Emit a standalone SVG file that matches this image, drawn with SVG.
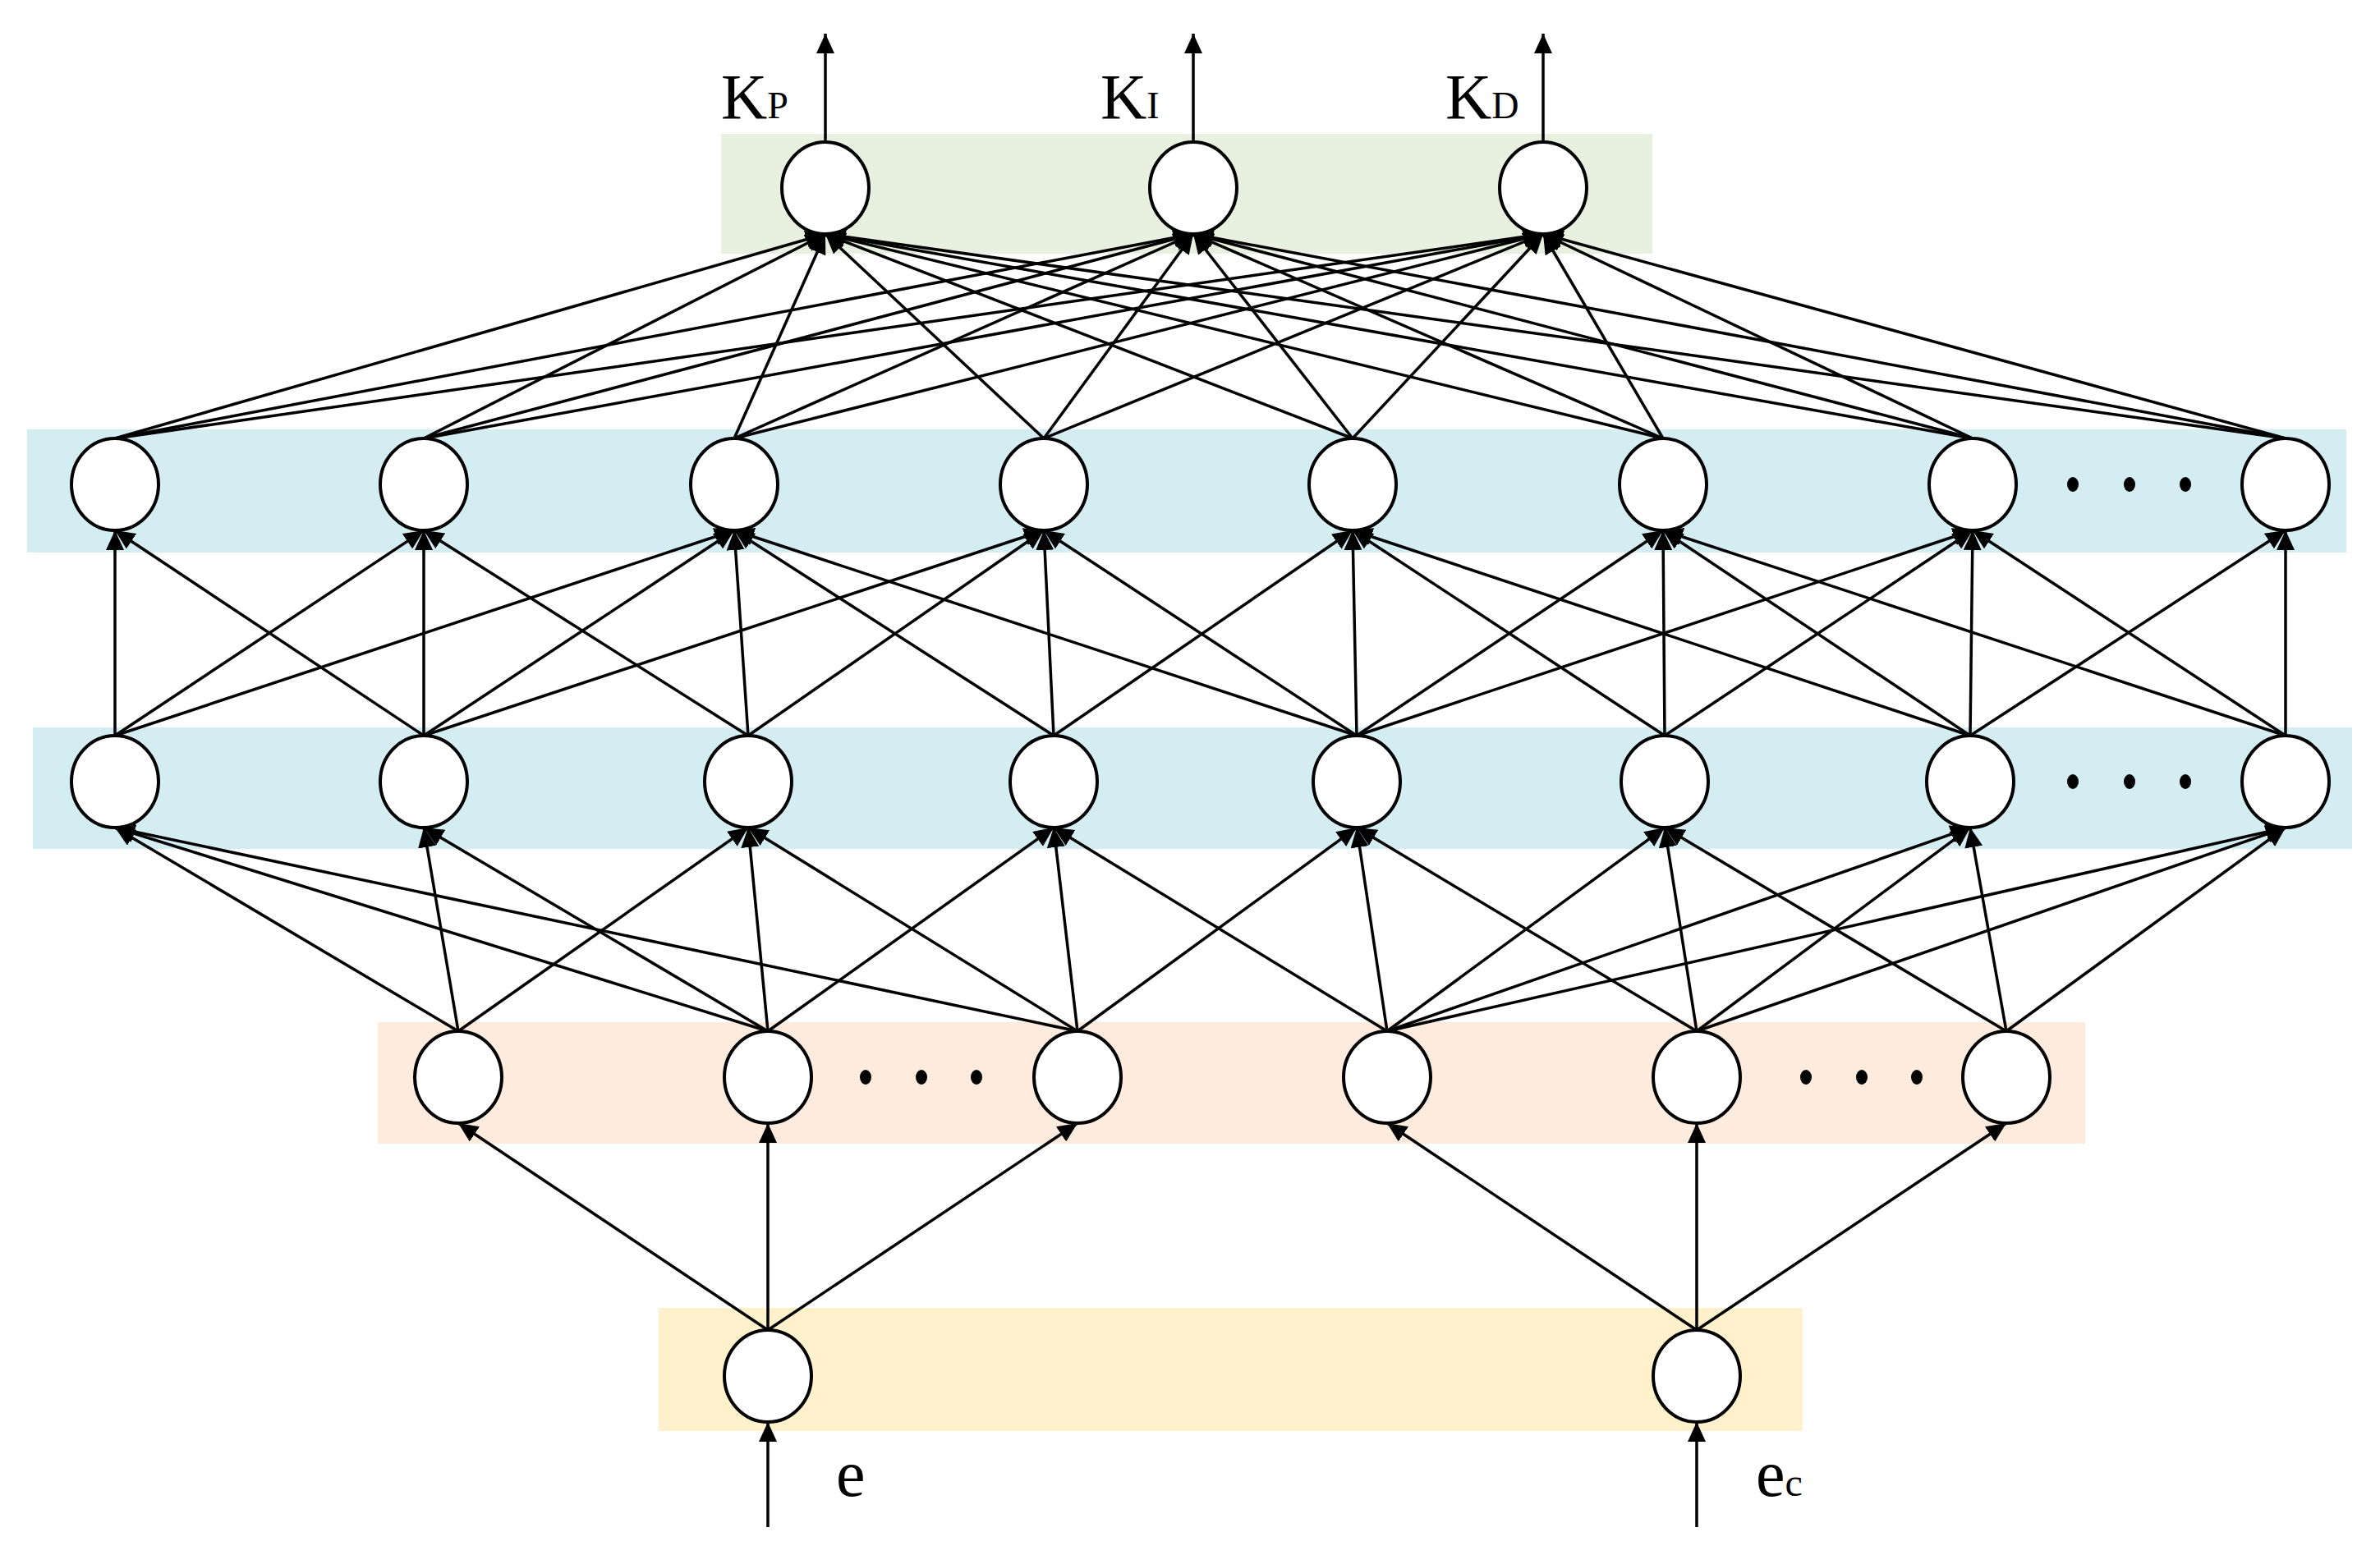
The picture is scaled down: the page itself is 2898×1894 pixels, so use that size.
<svg xmlns="http://www.w3.org/2000/svg" width="2898" height="1894" viewBox="0 0 2898 1894">
<style>
.n{fill:#fff;stroke:#000;stroke-width:4}
.e{stroke:#000;stroke-width:3.5;fill:none;marker-end:url(#ah)}
.t{font-family:"Liberation Serif",serif;fill:#000}
</style>
<defs>
<marker id="ah" markerUnits="userSpaceOnUse" markerWidth="26" markerHeight="22" refX="24" refY="11" orient="auto"><path d="M0,0 L24,11 L0,22 Z" fill="#000"/></marker>
</defs>
<rect width="2898" height="1894" fill="#fff"/>
<g id="bands">
<rect x="878" y="163" width="1134" height="146" fill="#e8f0df"/>
<rect x="33" y="523" width="2824" height="150" fill="#d4edf2"/>
<rect x="40" y="886" width="2824" height="148" fill="#d4edf2"/>
<rect x="460" y="1245" width="2079" height="148" fill="#fdebdd"/>
<rect x="802" y="1593" width="1393" height="150" fill="#fff1cc"/>
</g>
<g id="connectors">
<!-- outputs -->
<line class="e" x1="1005" y1="173" x2="1005" y2="41"/>
<line class="e" x1="1453" y1="173" x2="1453" y2="41"/>
<line class="e" x1="1879" y1="173" x2="1879" y2="41"/>
<!-- H2 -> out -->
<line class="e" x1="140" y1="534" x2="1005" y2="285"/><line class="e" x1="140" y1="534" x2="1453" y2="285"/><line class="e" x1="140" y1="534" x2="1879" y2="285"/>
<line class="e" x1="516" y1="534" x2="1005" y2="285"/><line class="e" x1="516" y1="534" x2="1453" y2="285"/><line class="e" x1="516" y1="534" x2="1879" y2="285"/>
<line class="e" x1="894" y1="534" x2="1005" y2="285"/><line class="e" x1="894" y1="534" x2="1453" y2="285"/><line class="e" x1="894" y1="534" x2="1879" y2="285"/>
<line class="e" x1="1271" y1="534" x2="1005" y2="285"/><line class="e" x1="1271" y1="534" x2="1453" y2="285"/><line class="e" x1="1271" y1="534" x2="1879" y2="285"/>
<line class="e" x1="1647" y1="534" x2="1005" y2="285"/><line class="e" x1="1647" y1="534" x2="1453" y2="285"/><line class="e" x1="1647" y1="534" x2="1879" y2="285"/>
<line class="e" x1="2025" y1="534" x2="1005" y2="285"/><line class="e" x1="2025" y1="534" x2="1453" y2="285"/><line class="e" x1="2025" y1="534" x2="1879" y2="285"/>
<line class="e" x1="2402" y1="534" x2="1005" y2="285"/><line class="e" x1="2402" y1="534" x2="1453" y2="285"/><line class="e" x1="2402" y1="534" x2="1879" y2="285"/>
<line class="e" x1="2783" y1="534" x2="1005" y2="285"/><line class="e" x1="2783" y1="534" x2="1453" y2="285"/><line class="e" x1="2783" y1="534" x2="1879" y2="285"/>
<!-- H1 -> H2 -->
<line class="e" x1="140" y1="896" x2="140" y2="646"/><line class="e" x1="140" y1="896" x2="516" y2="646"/><line class="e" x1="140" y1="896" x2="894" y2="646"/>
<line class="e" x1="516" y1="896" x2="140" y2="646"/><line class="e" x1="516" y1="896" x2="516" y2="646"/><line class="e" x1="516" y1="896" x2="894" y2="646"/><line class="e" x1="516" y1="896" x2="1271" y2="646"/>
<line class="e" x1="911" y1="896" x2="516" y2="646"/><line class="e" x1="911" y1="896" x2="894" y2="646"/><line class="e" x1="911" y1="896" x2="1271" y2="646"/>
<line class="e" x1="1283" y1="896" x2="894" y2="646"/><line class="e" x1="1283" y1="896" x2="1271" y2="646"/><line class="e" x1="1283" y1="896" x2="1647" y2="646"/>
<line class="e" x1="1652" y1="896" x2="894" y2="646"/><line class="e" x1="1652" y1="896" x2="1271" y2="646"/><line class="e" x1="1652" y1="896" x2="1647" y2="646"/><line class="e" x1="1652" y1="896" x2="2025" y2="646"/><line class="e" x1="1652" y1="896" x2="2402" y2="646"/>
<line class="e" x1="2027" y1="896" x2="1647" y2="646"/><line class="e" x1="2027" y1="896" x2="2025" y2="646"/><line class="e" x1="2027" y1="896" x2="2402" y2="646"/>
<line class="e" x1="2399" y1="896" x2="1647" y2="646"/><line class="e" x1="2399" y1="896" x2="2025" y2="646"/><line class="e" x1="2399" y1="896" x2="2402" y2="646"/><line class="e" x1="2399" y1="896" x2="2783" y2="646"/>
<line class="e" x1="2783" y1="896" x2="2025" y2="646"/><line class="e" x1="2783" y1="896" x2="2402" y2="646"/><line class="e" x1="2783" y1="896" x2="2783" y2="646"/>
<!-- orange -> H1 -->
<line class="e" x1="558" y1="1256" x2="140" y2="1008"/><line class="e" x1="558" y1="1256" x2="516" y2="1008"/><line class="e" x1="558" y1="1256" x2="911" y2="1008"/>
<line class="e" x1="935" y1="1256" x2="140" y2="1008"/><line class="e" x1="935" y1="1256" x2="516" y2="1008"/><line class="e" x1="935" y1="1256" x2="911" y2="1008"/><line class="e" x1="935" y1="1256" x2="1283" y2="1008"/>
<line class="e" x1="1312" y1="1256" x2="140" y2="1008"/><line class="e" x1="1312" y1="1256" x2="911" y2="1008"/><line class="e" x1="1312" y1="1256" x2="1283" y2="1008"/><line class="e" x1="1312" y1="1256" x2="1652" y2="1008"/>
<line class="e" x1="1689" y1="1256" x2="1283" y2="1008"/><line class="e" x1="1689" y1="1256" x2="1652" y2="1008"/><line class="e" x1="1689" y1="1256" x2="2027" y2="1008"/><line class="e" x1="1689" y1="1256" x2="2399" y2="1008"/><line class="e" x1="1689" y1="1256" x2="2783" y2="1008"/>
<line class="e" x1="2066" y1="1256" x2="1652" y2="1008"/><line class="e" x1="2066" y1="1256" x2="2027" y2="1008"/><line class="e" x1="2066" y1="1256" x2="2399" y2="1008"/><line class="e" x1="2066" y1="1256" x2="2783" y2="1008"/>
<line class="e" x1="2443" y1="1256" x2="2027" y2="1008"/><line class="e" x1="2443" y1="1256" x2="2399" y2="1008"/><line class="e" x1="2443" y1="1256" x2="2783" y2="1008"/>
<!-- input -> orange -->
<line class="e" x1="935" y1="1620" x2="558" y2="1368"/><line class="e" x1="935" y1="1620" x2="935" y2="1368"/><line class="e" x1="935" y1="1620" x2="1312" y2="1368"/>
<line class="e" x1="2066" y1="1620" x2="1689" y2="1368"/><line class="e" x1="2066" y1="1620" x2="2066" y2="1368"/><line class="e" x1="2066" y1="1620" x2="2443" y2="1368"/>
<!-- inputs -->
<line class="e" x1="935" y1="1860" x2="935" y2="1732"/>
<line class="e" x1="2066" y1="1860" x2="2066" y2="1732"/>
</g>
<g id="out0"><ellipse class="n" cx="1005" cy="229" rx="53" ry="56"/></g>
<g id="out1"><ellipse class="n" cx="1453" cy="229" rx="53" ry="56"/></g>
<g id="out2"><ellipse class="n" cx="1879" cy="229" rx="53" ry="56"/></g>
<g id="h2_0"><ellipse class="n" cx="140" cy="590" rx="53" ry="56"/></g>
<g id="h2_1"><ellipse class="n" cx="516" cy="590" rx="53" ry="56"/></g>
<g id="h2_2"><ellipse class="n" cx="894" cy="590" rx="53" ry="56"/></g>
<g id="h2_3"><ellipse class="n" cx="1271" cy="590" rx="53" ry="56"/></g>
<g id="h2_4"><ellipse class="n" cx="1647" cy="590" rx="53" ry="56"/></g>
<g id="h2_5"><ellipse class="n" cx="2025" cy="590" rx="53" ry="56"/></g>
<g id="h2_6"><ellipse class="n" cx="2402" cy="590" rx="53" ry="56"/></g>
<g id="h2_7"><ellipse class="n" cx="2783" cy="590" rx="53" ry="56"/></g>
<g id="h1_0"><ellipse class="n" cx="140" cy="952" rx="53" ry="56"/></g>
<g id="h1_1"><ellipse class="n" cx="516" cy="952" rx="53" ry="56"/></g>
<g id="h1_2"><ellipse class="n" cx="911" cy="952" rx="53" ry="56"/></g>
<g id="h1_3"><ellipse class="n" cx="1283" cy="952" rx="53" ry="56"/></g>
<g id="h1_4"><ellipse class="n" cx="1652" cy="952" rx="53" ry="56"/></g>
<g id="h1_5"><ellipse class="n" cx="2027" cy="952" rx="53" ry="56"/></g>
<g id="h1_6"><ellipse class="n" cx="2399" cy="952" rx="53" ry="56"/></g>
<g id="h1_7"><ellipse class="n" cx="2783" cy="952" rx="53" ry="56"/></g>
<g id="o0"><ellipse class="n" cx="558" cy="1312" rx="53" ry="56"/></g>
<g id="o1"><ellipse class="n" cx="935" cy="1312" rx="53" ry="56"/></g>
<g id="o2"><ellipse class="n" cx="1312" cy="1312" rx="53" ry="56"/></g>
<g id="o3"><ellipse class="n" cx="1689" cy="1312" rx="53" ry="56"/></g>
<g id="o4"><ellipse class="n" cx="2066" cy="1312" rx="53" ry="56"/></g>
<g id="o5"><ellipse class="n" cx="2443" cy="1312" rx="53" ry="56"/></g>
<g id="in0"><ellipse class="n" cx="935" cy="1676" rx="53" ry="56"/></g>
<g id="in1"><ellipse class="n" cx="2066" cy="1676" rx="53" ry="56"/></g>
<g id="dots" fill="#000">
<ellipse cx="2524" cy="590" rx="7" ry="9"/><ellipse cx="2593" cy="590" rx="7" ry="9"/><ellipse cx="2661" cy="590" rx="7" ry="9"/>
<ellipse cx="2524" cy="952" rx="7" ry="9"/><ellipse cx="2593" cy="952" rx="7" ry="9"/><ellipse cx="2661" cy="952" rx="7" ry="9"/>
<ellipse cx="1054" cy="1312" rx="7" ry="9"/><ellipse cx="1122" cy="1312" rx="7" ry="9"/><ellipse cx="1189" cy="1312" rx="7" ry="9"/>
<ellipse cx="2199" cy="1312" rx="7" ry="9"/><ellipse cx="2267" cy="1312" rx="7" ry="9"/><ellipse cx="2334" cy="1312" rx="7" ry="9"/>
</g>
<g id="labels" class="t">
<text class="t" x="878" y="144" font-size="78">K<tspan font-size="46">P</tspan></text>
<text class="t" x="1340" y="144" font-size="78">K<tspan font-size="46">I</tspan></text>
<text class="t" x="1760" y="144" font-size="78">K<tspan font-size="46">D</tspan></text>
<text class="t" x="1018" y="1822" font-size="80">e</text>
<text class="t" x="2138" y="1822" font-size="80">e<tspan font-size="48">c</tspan></text>
</g>
</svg>
